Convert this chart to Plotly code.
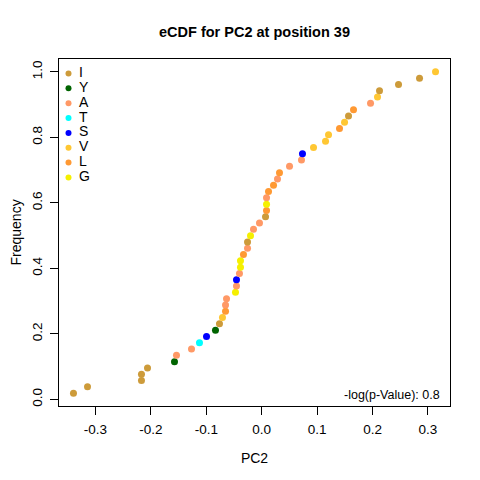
import numpy as np
import plotly.graph_objects as go

# Amino acid categories (legend order) and their colours
categories = ["I", "Y", "A", "T", "S", "V", "L", "G"]
cat_colors = ["#CD9B3A", "#006400", "#FF9966", "#00FFFF", "#0000FF", "#FFC733", "#FF9933", "#F5F000"]

# Sorted PC2 values and the residue of each point
pc2_values = [
    -0.3397, -0.3144, -0.2170, -0.2170, -0.2061, -0.1574, -0.1538, -0.1267, -0.1123, -0.0996,
    -0.0834, -0.0762, -0.0708, -0.0653, -0.0653, -0.0635, -0.0473, -0.0455, -0.0455, -0.0401,
    -0.0383, -0.0383, -0.0329, -0.0256, -0.0256, -0.0202, -0.0148, -0.0040, 0.0069, 0.0087,
    0.0087, 0.0087, 0.0123, 0.0213, 0.0285, 0.0321, 0.0502, 0.0718, 0.0736, 0.0935,
    0.1152, 0.1206, 0.1404, 0.1495, 0.1567, 0.1657, 0.1964, 0.2090, 0.2126, 0.2469,
    0.2848, 0.3137,
]
residues = [
    "I", "I", "I", "I", "I", "Y", "A", "A", "T", "S",
    "Y", "I", "V", "L", "A", "A", "G", "A", "S", "A",
    "G", "G", "L", "A", "I", "G", "A", "A", "I", "L",
    "G", "A", "L", "L", "A", "L", "A", "A", "S", "V",
    "V", "V", "L", "V", "I", "L", "A", "V", "I", "I",
    "I", "V",
]
x_ticks = [-0.3, -0.2, -0.1, 0.0, 0.1, 0.2, 0.3]
y_ticks = [0.0, 0.2, 0.4, 0.6, 0.8, 1.0]
p_value_text = "-log(p-Value): 0.8"

n = len(pc2_values)
ecdf = np.arange(1, n + 1) / n
color_map = dict(zip(categories, cat_colors))
point_colors = [color_map[r] for r in residues]

FONT = "Liberation Sans, Arial, sans-serif"
PLOT_W, PLOT_H = 391, 347
OFF = 8  # page body margin offset
ML = 59 - OFF

fig = go.Figure()
fig.add_trace(go.Scatter(
    x=pc2_values, y=ecdf, mode="markers",
    marker=dict(size=7, color=point_colors, line=dict(width=0)),
    showlegend=False, hoverinfo="x+y",
))

# Legend drawn on an overlay axis pair (x2: fraction of plot width, y2: item index)
legend_idx = list(range(len(categories)))
fig.add_trace(go.Scatter(
    x=[9.5 / PLOT_W] * len(categories), y=legend_idx, mode="markers",
    marker=dict(size=6, color=cat_colors, line=dict(width=0)),
    xaxis="x2", yaxis="y2", showlegend=False, hoverinfo="skip",
))
fig.add_trace(go.Scatter(
    x=[20.0 / PLOT_W] * len(categories), y=legend_idx, mode="text",
    text=categories, textposition="middle right",
    textfont=dict(family=FONT, size=14, color="black"),
    xaxis="x2", yaxis="y2", showlegend=False, hoverinfo="skip",
))

xmin, xmax = min(pc2_values), max(pc2_values)
xr = xmax - xmin
ymin, ymax = ecdf[0], ecdf[-1]
yr = ymax - ymin

fig.update_layout(
    width=480, height=480,
    margin=dict(l=ML, r=30 + OFF, t=59 - OFF, b=74 + OFF, autoexpand=False),
    paper_bgcolor="white", plot_bgcolor="white",
    font=dict(family=FONT, size=13.5, color="black"),
    title=dict(text="<b>eCDF for PC2 at position 39</b>", x=(254.5 - OFF) / 480,
               xanchor="center", y=1 - (31.5 - OFF) / 480, yanchor="middle",
               font=dict(size=14.5)),
    xaxis=dict(range=[xmin - 0.04 * xr, xmax + 0.04 * xr], tickvals=x_ticks,
               ticktext=[f"{v:.1f}" for v in x_ticks], automargin=False,
               ticklabelstandoff=3,
               showgrid=False, zeroline=False, showline=True, linecolor="black",
               linewidth=1, mirror=True, ticks="outside", ticklen=8, tickcolor="black",
               title=dict(text="PC2", standoff=16, font=dict(size=14))),
    yaxis=dict(range=[ymin - 0.04 * yr, ymax + 0.04 * yr], tickvals=y_ticks,
               ticktext=[f"{v:.1f}" for v in y_ticks], tickangle=-90, automargin=False,
               ticklabelstandoff=3,
               showgrid=False, zeroline=False, showline=True, linecolor="black",
               linewidth=1, mirror=True, ticks="outside", ticklen=8, tickcolor="black"),
    xaxis2=dict(overlaying="x", range=[0, 1], visible=False, fixedrange=True),
    yaxis2=dict(overlaying="y", range=[22.39, -0.976], visible=False, fixedrange=True),
    annotations=[
        dict(text=p_value_text, xref="paper", yref="paper", x=1 - 8.5 / PLOT_W,
             y=(406 - 395) / PLOT_H, xanchor="right", yanchor="middle",
             showarrow=False, font=dict(size=12.5)),
        dict(text="Frequency", xref="paper", yref="paper", x=-ML / PLOT_W, y=0.5,
             xanchor="left", yanchor="middle", textangle=-90, showarrow=False,
             xshift=-2, borderpad=0, font=dict(size=14)),
    ],
)

fig.write_html("out.html")
